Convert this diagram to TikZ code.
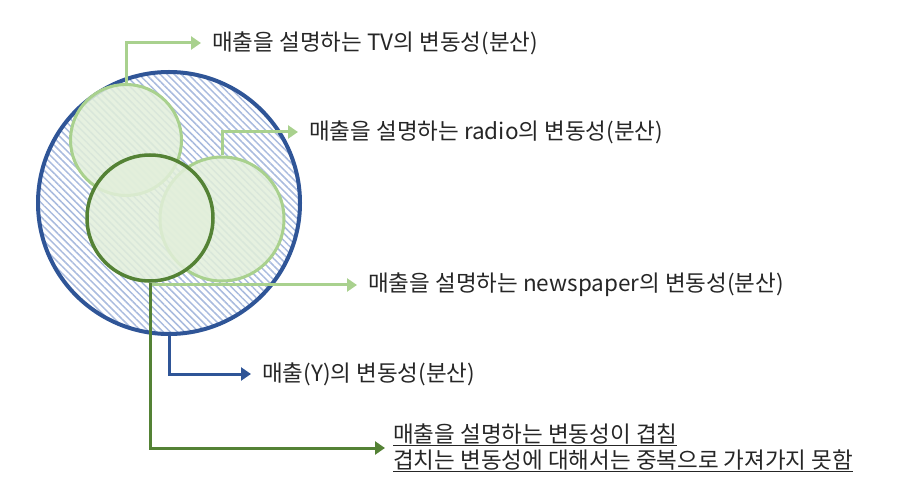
\documentclass[tikz,border=0pt]{standalone}
\usepackage{fontspec}
\setmainfont{Noto Sans CJK KR}
\usetikzlibrary{arrows.meta,patterns.meta}
\definecolor{yblue}{HTML}{2F5597}
\definecolor{lgreen}{HTML}{A9D18E}
\definecolor{dgreen}{HTML}{548235}
\definecolor{vfill}{HTML}{E2EFDA}
\definecolor{hatchc}{HTML}{A9BBDE}
\definecolor{txt}{HTML}{262626}

\begin{document}
\begin{tikzpicture}[x=1pt,y=-1pt,
        varc/.style={circle,draw,line width=3pt,inner sep=0pt,
            fill=vfill,fill opacity=.85},
        lbl/.style={anchor=west,inner xsep=11pt,inner ysep=0pt,text=txt,
            font=\fontsize{22.5}{26}\selectfont},
        ptr/.style={line width=3pt,-{Triangle[length=10pt,width=13pt]}}]
    \useasboundingbox (0,0) rectangle (918,494);
    % variance of Y
    \node[circle,draw=yblue,line width=4pt,minimum size=262pt,
        pattern={Lines[angle=-45,distance=5pt,line width=1.5pt]},
        pattern color=hatchc] (y) at (169,203) {};
    % explaining variables
    \node[varc,draw=lgreen,minimum size=111pt] (tv) at (126,140) {};
    \node[varc,draw=lgreen,minimum size=124pt] (radio) at (222,219) {};
    \node[varc,draw=dgreen,line width=3.5pt,minimum size=126pt] (news) at (150,218) {};

    % labels
    \node[lbl] (tvlbl) at (201,43) {매출을 설명하는 TV의 변동성(분산)};
    \node[lbl] (radiolbl) at (298,132) {매출을 설명하는 radio의 변동성(분산)};
    \node[lbl] (newslbl) at (357,285) {매출을 설명하는 newspaper의 변동성(분산)};
    \node[lbl] (ylbl) at (251,374) {매출(Y)의 변동성(분산)};
    \node[lbl,inner xsep=8pt,align=left] (ovlbl) at (385,448)
        {\underline{매출을 설명하는 변동성이 겹침}\\
         \underline{겹치는 변동성에 대해서는 중복으로 가져가지 못함}};

    % pointers
    \draw[ptr,lgreen] (tv.north) |- (tvlbl.west);
    \draw[ptr,lgreen] (radio.north) |- (radiolbl.west);
    \draw[ptr,lgreen] (news.south |- newslbl.west) -- (newslbl.west);
    \draw[ptr,yblue] (y.south) |- (ylbl.west);
    \draw[ptr,dgreen] (news.south) |- (ovlbl.west);
\end{tikzpicture}
\end{document}
